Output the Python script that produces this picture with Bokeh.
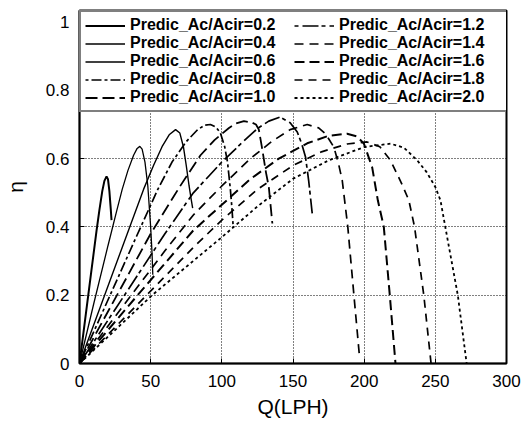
from bokeh.plotting import figure
from bokeh.models import Range1d, Legend, LegendItem, FixedTicker
from bokeh.embed import file_html
from bokeh.resources import INLINE

# ---- data (Q in LPH, eta) ----
labels = ["Predic_Ac/Acir=0.2", "Predic_Ac/Acir=0.4", "Predic_Ac/Acir=0.6",
          "Predic_Ac/Acir=0.8", "Predic_Ac/Acir=1.0", "Predic_Ac/Acir=1.2",
          "Predic_Ac/Acir=1.4", "Predic_Ac/Acir=1.6", "Predic_Ac/Acir=1.8",
          "Predic_Ac/Acir=2.0"]

q_02 = [0, 4, 8, 12, 14, 16, 17.5, 19, 20, 21, 22, 22.5]
e_02 = [0, 0.13, 0.26, 0.39, 0.45, 0.505, 0.535, 0.548, 0.54, 0.505, 0.45, 0.42]

q_04 = [0, 10, 20, 26, 30, 34, 38, 40.5, 42.4, 44, 46, 48, 50, 51, 51.5]
e_04 = [0, 0.175, 0.345, 0.445, 0.51, 0.565, 0.61, 0.63, 0.636, 0.628, 0.59, 0.52, 0.40, 0.32, 0.26]

q_06 = [0, 15, 30, 45, 52, 58, 63, 67.5, 70.5, 73, 75, 77, 78.5, 79.5]
e_06 = [0, 0.17, 0.34, 0.51, 0.58, 0.635, 0.67, 0.685, 0.675, 0.635, 0.58, 0.52, 0.48, 0.455]

q_08 = [0, 20, 40, 55, 65, 75, 83, 88, 92, 96, 99, 102, 104, 106, 107, 108]
e_08 = [0, 0.186, 0.372, 0.51, 0.59, 0.65, 0.685, 0.698, 0.70, 0.692, 0.675, 0.635, 0.59, 0.51, 0.46, 0.40]

q_10 = [0, 25, 50, 70, 85, 95, 105, 110, 115.5, 121, 124, 126, 128.3, 131, 133, 135.5]
e_10 = [0, 0.19, 0.38, 0.515, 0.61, 0.655, 0.69, 0.703, 0.71, 0.706, 0.70, 0.685, 0.63, 0.56, 0.517, 0.41]

q_12 = [0, 30, 60, 80, 100, 115, 125, 133, 141, 148, 153, 156, 158.8, 161, 163.5]
e_12 = [0, 0.19, 0.38, 0.50, 0.59, 0.65, 0.688, 0.71, 0.722, 0.705, 0.678, 0.645, 0.605, 0.536, 0.44]

q_14 = [0, 30, 60, 80, 100, 120, 135, 148, 160, 168, 173, 178.7, 182, 184.6, 188.5, 192.8, 196.5]
e_14 = [0, 0.165, 0.33, 0.435, 0.52, 0.60, 0.65, 0.685, 0.70, 0.69, 0.672, 0.634, 0.585, 0.536, 0.40, 0.20, 0.03]

q_16 = [0, 40, 80, 100, 120, 140, 160, 175, 188, 195, 199.8, 205.6, 209.6, 213.8, 218, 222]
e_16 = [0, 0.196, 0.39, 0.465, 0.54, 0.60, 0.645, 0.667, 0.673, 0.665, 0.644, 0.575, 0.478, 0.40, 0.20, 0]

q_18 = [0, 40, 80, 100, 125, 150, 170, 188, 202, 211, 218.5, 226, 231.4, 235.4, 241.9, 247]
e_18 = [0, 0.17, 0.34, 0.42, 0.51, 0.58, 0.62, 0.643, 0.649, 0.635, 0.595, 0.53, 0.478, 0.40, 0.20, 0]

q_20 = [0, 51, 100, 125, 150, 175, 200, 218.5, 228, 237.3, 244, 250, 253.6, 257, 265.8, 272]
e_20 = [0, 0.20, 0.37, 0.46, 0.541, 0.595, 0.634, 0.644, 0.632, 0.595, 0.56, 0.517, 0.478, 0.40, 0.20, 0]

x_ticks = [0, 50, 100, 150, 200, 250, 300]
y_ticks = [0, 0.2, 0.4, 0.6, 0.8, 1]

series_q = [q_02, q_04, q_06, q_08, q_10, q_12, q_14, q_16, q_18, q_20]
series_e = [e_02, e_04, e_06, e_08, e_10, e_12, e_14, e_16, e_18, e_20]

# ---- styles ----
dashes = ["solid", "solid", "solid", "3 3 10 3", "12 5", "4 4 16 3",
          "9 6", "10 5", "8 6", "3 3"]
widths = [2.0, 1.3, 1.4, 1.7, 1.8, 1.7, 1.7, 2.0, 1.7, 1.8]

FONT = "Liberation Sans"

p = figure(width=532, height=424, output_backend="svg", toolbar_location=None,
           x_range=Range1d(0, 300), y_range=Range1d(0, 1.034),
           min_border_left=79, min_border_right=26, min_border_top=10,
           min_border_bottom=61)

p.outline_line_color = "black"
p.outline_line_width = 2
p.background_fill_color = "white"
p.border_fill_color = "white"

renderers = []
for q, e, d, w in zip(series_q, series_e, dashes, widths):
    r = p.line(q, e, line_color="black", line_width=w, line_dash=d)
    renderers.append(r)

# axes
for ax in (p.xaxis[0], p.yaxis[0]):
    ax.major_tick_in = 5
    ax.major_tick_out = 0
    ax.minor_tick_in = 0
    ax.minor_tick_out = 0
    ax.axis_line_color = "black"
    ax.axis_line_width = 1.5
    ax.major_label_text_font = FONT
    ax.major_label_text_font_size = "17px"
    ax.major_label_text_color = "black"
    ax.axis_label_text_font = FONT
    ax.axis_label_text_font_style = "normal"
    ax.axis_label_text_color = "black"
    ax.axis_label_text_font_size = "21px"

p.xaxis[0].ticker = FixedTicker(ticks=x_ticks)
p.yaxis[0].ticker = FixedTicker(ticks=y_ticks)
p.yaxis[0].major_label_overrides = {0: "0", 1: "1"}
p.xaxis[0].axis_label = "Q(LPH)"
p.yaxis[0].axis_label = "η"
p.xaxis[0].major_label_standoff = 11
p.yaxis[0].major_label_standoff = 10
p.xaxis[0].axis_label_standoff = 5
p.yaxis[0].axis_label_standoff = 16

# grid
for g in (p.xgrid[0], p.ygrid[0]):
    g.grid_line_color = "black"
    g.grid_line_dash = "1 2"
    g.grid_line_width = 1
p.xgrid[0].ticker = FixedTicker(ticks=x_ticks)
p.ygrid[0].ticker = FixedTicker(ticks=y_ticks)

legend = Legend(items=[LegendItem(label=l, renderers=[r]) for l, r in zip(labels, renderers)],
                location="top_left", ncols=2, nrows=5, orientation="vertical")
legend.margin = 0
legend.padding = 4
legend.spacing = 0
legend.glyph_width = 40
legend.glyph_height = 17
legend.label_height = 17
legend.label_width = 164
legend.label_standoff = 5
legend.label_text_font = FONT
legend.label_text_font_style = "bold"
legend.label_text_font_size = "16px"
legend.label_text_color = "black"
legend.border_line_color = "black"
legend.border_line_width = 2
legend.background_fill_color = "white"
legend.background_fill_alpha = 1
p.add_layout(legend, "center")

open("out.html", "w").write(file_html(p, INLINE))
